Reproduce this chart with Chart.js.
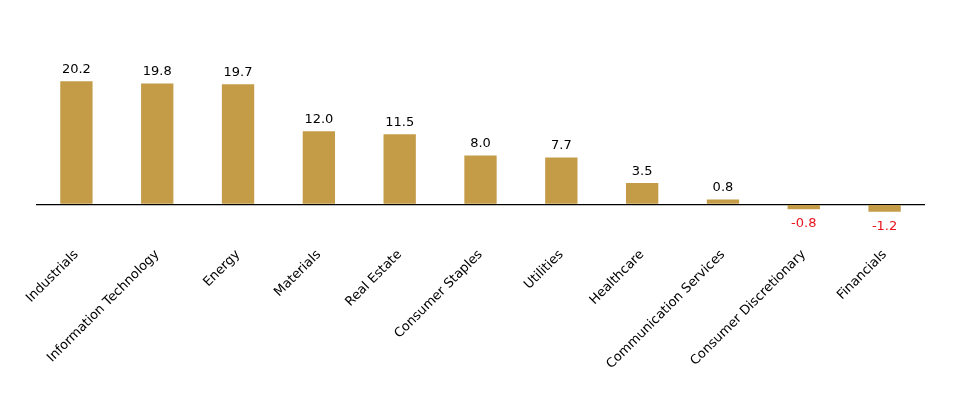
<!DOCTYPE html>
<html>
<head>
<meta charset="utf-8">
<script src="https://cdn.jsdelivr.net/npm/chart.js@4"></script>
<style>
  html, body { margin: 0; padding: 0; background: #fff; }
  #wrap { width: 961px; height: 402px; }
</style>
</head>
<body>
<div id="wrap"><canvas id="myChart"></canvas></div>
<script>
const sectors = [
  "Industrials",
  "Information Technology",
  "Energy",
  "Materials",
  "Real Estate",
  "Consumer Staples",
  "Utilities",
  "Healthcare",
  "Communication Services",
  "Consumer Discretionary",
  "Financials",
];
const returns = [20.2, 19.8, 19.7, 12.0, 11.5, 8.0, 7.7, 3.5, 0.8, -0.8, -1.2];

// value labels above / below each bar
const valueLabels = {
  id: "valueLabels",
  afterDatasetsDraw(chart) {
    const ctx = chart.ctx;
    const meta = chart.getDatasetMeta(0);
    ctx.save();
    ctx.font = "13px 'DejaVu Sans'";
    ctx.textAlign = "center";
    meta.data.forEach(function (bar, i) {
      const v = returns[i];
      if (v < 0) {
        ctx.fillStyle = "#e8141c";
        ctx.textBaseline = "top";
        ctx.fillText(v.toFixed(1), bar.x, bar.y + 8);
      } else {
        ctx.fillStyle = "#000";
        ctx.textBaseline = "bottom";
        ctx.fillText(v.toFixed(1), bar.x, bar.y - 5);
      }
    });
    ctx.restore();
  },
};

const config = {
  type: "bar",
  data: {
    labels: sectors,
    datasets: [
      {
        data: returns,
        backgroundColor: "#c49c48",
        barPercentage: 0.4,
        categoryPercentage: 1.0,
      },
    ],
  },
  options: {
    responsive: true,
    maintainAspectRatio: false,
    animation: false,
    layout: { padding: { left: 36, right: 36, top: 58, bottom: 16 } },
    plugins: {
      legend: { display: false },
      tooltip: { enabled: false },
    },
    scales: {
      x: {
        grid: { display: false },
        border: { display: false },
        ticks: {
          minRotation: 45,
          maxRotation: 45,
          padding: 17,
          color: "#000",
          font: { family: "'DejaVu Sans'", size: 13 },
        },
      },
      y: {
        min: -2.9,
        max: 24,
        afterBuildTicks: (axis) => {
          axis.ticks = [{ value: 0 }];
        },
        ticks: { display: false },
        border: { display: false },
        grid: {
          drawTicks: false,
          lineWidth: 1.2,
          color: (c) => (c.tick && c.tick.value === 0 ? "#000" : "transparent"),
        },
      },
    },
  },
  plugins: [valueLabels],
};

const myChart = new Chart(document.getElementById("myChart"), config);
</script>
</body>
</html>
